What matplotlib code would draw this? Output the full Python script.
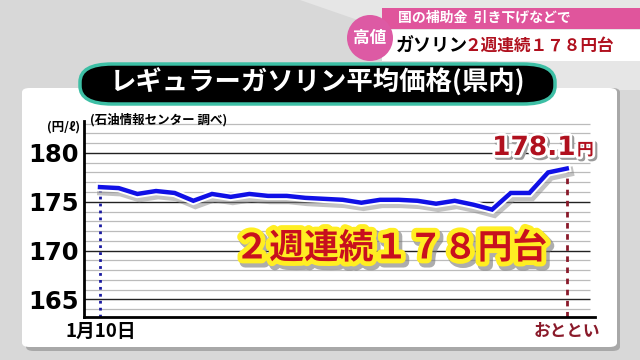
import matplotlib.pyplot as plt
import matplotlib.patheffects as pe
from matplotlib.patches import FancyBboxPatch, Ellipse, Rectangle, Polygon

plt.rcParams['font.family'] = ['Noto Sans CJK JP', 'DejaVu Sans']

# weekly regular gasoline price (yen / litre)
prices = [176.5, 176.4, 175.8, 176.1, 175.9, 175.1, 175.8, 175.5, 175.8, 175.6,
          175.6, 175.4, 175.3, 175.2, 174.9, 175.2, 175.2, 175.1, 174.8, 175.1,
          174.7, 174.2, 175.9, 175.9, 178.0, 178.4]
weeks = list(range(len(prices)))
yticks = [165, 170, 175, 180]
first_label = '1月10日'
last_label = 'おととい'
latest_label = '178.1'
title = 'レギュラーガソリン平均価格(県内)'
source = '(石油情報センター 調べ)'
unit = '(円/ℓ)'
headline = '２週連続１７８円台'

W, H = 640, 360


def fx(x):
    return x / W


def fy(y):
    return 1 - y / H


fig = plt.figure(figsize=(6.4, 3.6), dpi=100)
fig.patch.set_facecolor('#d8d8d8')
fig.patches.append(Polygon([(fx(300), fy(0)), (fx(640), fy(0)), (fx(640), fy(90)), (fx(560), fy(90))],
                           closed=True, transform=fig.transFigure, facecolor='#e6e6e6',
                           edgecolor='none', zorder=-3))

# white panel with shadow
fig.patches.append(FancyBboxPatch((fx(26), fy(351)), fx(594), 263 / H,
                                  boxstyle='round,pad=0,rounding_size=0.012',
                                  transform=fig.transFigure, facecolor='#888888',
                                  edgecolor='none', alpha=0.6, zorder=-2))
fig.patches.append(FancyBboxPatch((fx(22), fy(347)), fx(595), 259 / H,
                                  boxstyle='round,pad=0,rounding_size=0.012',
                                  transform=fig.transFigure, facecolor='white',
                                  edgecolor='none', zorder=-1))

# title box
fig.patches.append(FancyBboxPatch((fx(80), fy(104)), fx(475), 40 / H,
                                  boxstyle='round,pad=0,rounding_size=0.05',
                                  transform=fig.transFigure, facecolor='black',
                                  edgecolor='#3dbfa5', linewidth=2.5, zorder=2))
fig.text(fx(318), fy(83), title, color='white', fontsize=19, ha='center', va='center',
         fontweight='bold', zorder=3)

# top right banners
fig.patches.append(Rectangle((fx(382), fy(29)), fx(258), 21 / H, transform=fig.transFigure,
                             facecolor='#e0559c', edgecolor='none', zorder=2))
fig.patches.append(Rectangle((fx(382), fy(61)), fx(258), 31 / H, transform=fig.transFigure,
                             facecolor='white', edgecolor='none', zorder=2))
fig.patches.append(Ellipse((fx(370), fy(38)), 46 / W, 46 / H, transform=fig.transFigure,
                           facecolor='#dd5aa4', edgecolor='none', zorder=3))
fig.text(fx(370), fy(38), '高値', color='white', fontsize=12, fontweight='bold',
         ha='center', va='center', zorder=4)
fig.text(fx(398), fy(18), '国の補助金  引き下げなどで', color='white', fontsize=10,
         fontweight='bold', ha='left', va='center', zorder=4)
fig.text(fx(396), fy(46), 'ガソリン', color='black', fontsize=13, fontweight='bold',
         ha='left', va='center', zorder=4)
fig.text(fx(464), fy(46), headline, color='#b0101e', fontsize=12, fontweight='bold',
         ha='left', va='center', zorder=4)

# chart axes
ax = fig.add_axes([fx(84), fy(317), fx(595 - 84), (317 - 120.7) / H])
ax.set_facecolor('none')
ax.set_xlim(-16 / 18.67, (595 - 100) / 18.67)
ax.set_ylim(163.2, 183.3)
grid_end = (590 - 100) / 18.67
for v in range(164, 184):
    major = v in yticks
    ax.hlines(v, ax.get_xlim()[0], grid_end, color='#222222' if major else '#bbbbbb',
              linewidth=1.0 if major else 0.9, zorder=1)
for s in ['top', 'right']:
    ax.spines[s].set_visible(False)
ax.spines['left'].set_linewidth(2)
ax.spines['bottom'].set_linewidth(2)
ax.set_xticks([])
ax.set_yticks(yticks)
ax.set_yticklabels([str(t) for t in yticks], fontsize=17.5, fontweight='bold',
                   family=['DejaVu Sans'])
ax.tick_params(axis='y', length=0, pad=4)

ax.vlines(weeks[0], 163.2, prices[0], color='#1a1aa0', linestyle=(0, (1, 1.5)),
          linewidth=2, zorder=2)
ax.vlines(weeks[-1], 163.2, prices[-1], color='#8a1a2a', linestyle=(0, (2, 2)),
          linewidth=2, zorder=2)
ax.plot(weeks, prices, color='#1010e6', linewidth=3.2, solid_joinstyle='miter', zorder=3,
        path_effects=[pe.Stroke(linewidth=7, foreground='#888888', alpha=0.5, offset=(1.5, -2.5)),
                      pe.Stroke(linewidth=6, foreground='white'), pe.Normal()])

# texts
fig.text(fx(80), fy(127), unit, fontsize=9, fontweight='bold', ha='right', va='center')
fig.text(fx(90), fy(120), source, fontsize=9, fontweight='bold', ha='left', va='center',
         zorder=3)
fig.text(fx(101), fy(331), first_label, fontsize=13.5, fontweight='bold', ha='center',
         va='center')
fig.text(fx(567), fy(331), last_label, fontsize=12, fontweight='bold', ha='center',
         va='center', color='#8a1a2a')

outline = [pe.Stroke(linewidth=4, foreground='#9a9a9a', offset=(1.5, -1.5)),
           pe.Stroke(linewidth=4, foreground='white'), pe.Normal()]
fig.text(fx(576), fy(148), latest_label, fontsize=19, fontweight='bold', ha='right',
         va='center', color='#b0101e', family=['DejaVu Sans'], path_effects=outline)
fig.text(fx(577), fy(150), '円', fontsize=12, fontweight='bold', ha='left',
         va='center', color='#b0101e', path_effects=outline)

big = [pe.Stroke(linewidth=8, foreground='#777777', alpha=0.6, offset=(2, -2.5)),
       pe.Stroke(linewidth=7, foreground='#ffee22'), pe.Normal()]
fig.text(fx(391), fy(248), headline, fontsize=25, fontweight='bold', ha='center',
         va='center', color='#c8101e', path_effects=big, zorder=4)

fig.savefig('out.png', dpi=100, facecolor=fig.get_facecolor())
